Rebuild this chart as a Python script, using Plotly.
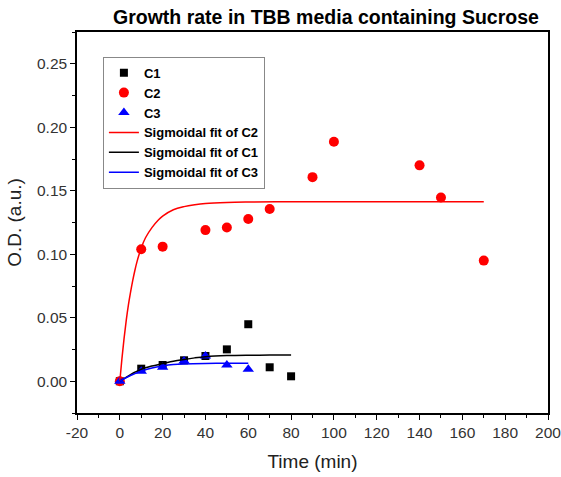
import plotly.graph_objects as go

# Measured data
t_c1 = [0, 10, 20, 30, 40, 50, 60, 70, 80]
od_c1 = [0.0, 0.0099, 0.0128, 0.0165, 0.0199, 0.0251, 0.0449, 0.011, 0.0039]

t_c2 = [0, 10, 20, 40, 50, 60, 70, 90, 100, 140, 150, 170]
od_c2 = [0.0, 0.104, 0.106, 0.119, 0.121, 0.1277, 0.1356, 0.1607, 0.1886, 0.170, 0.1447, 0.095]

t_c3 = [0, 10, 20, 30, 40, 50, 60]
od_c3 = [0.0, 0.0078, 0.011, 0.0159, 0.0199, 0.0128, 0.0094]

# Fitted curves
fit_t_c2 = [0, 1, 2, 3, 4, 5, 6, 7, 8, 10, 12, 15, 18, 20, 25, 30, 35, 40, 50, 60, 80, 100, 140, 170]
fit_od_c2 = [0.0, 0.018, 0.034, 0.048, 0.060, 0.070, 0.079, 0.087, 0.094, 0.105, 0.113, 0.121,
             0.127, 0.130, 0.135, 0.1375, 0.139, 0.140, 0.1408, 0.1411, 0.1413, 0.1413, 0.1413, 0.1413]

fit_t_c1 = [0, 5, 10, 15, 20, 25, 30, 35, 40, 50, 60, 70, 80]
fit_od_c1 = [0.0, 0.0052, 0.0094, 0.0120, 0.0139, 0.0158, 0.0172, 0.0184, 0.0193, 0.0202, 0.0205, 0.0206, 0.0206]

fit_t_c3 = [0, 5, 10, 15, 20, 25, 30, 40, 50, 60]
fit_od_c3 = [0.0, 0.0045, 0.0080, 0.0104, 0.0120, 0.0131, 0.0136, 0.0140, 0.0141, 0.0141]

# Tick labels
x_ticks = [-20, 0, 20, 40, 60, 80, 100, 120, 140, 160, 180, 200]
x_tick_labels = ["-20", "0", "20", "40", "60", "80", "100", "120", "140", "160", "180", "200"]
y_ticks = [0.0, 0.05, 0.10, 0.15, 0.20, 0.25]
y_tick_labels = ["0.00", "0.05", "0.10", "0.15", "0.20", "0.25"]

FONT = "Liberation Sans, Arial"

fig = go.Figure()

fig.add_trace(go.Scatter(x=t_c1, y=od_c1, mode="markers", name="C1",
                         marker=dict(symbol="square", size=8, color="black")))
fig.add_trace(go.Scatter(x=t_c2, y=od_c2, mode="markers", name="C2",
                         marker=dict(symbol="circle", size=10, color="#ff0000")))
fig.add_trace(go.Scatter(x=t_c3, y=od_c3, mode="markers", name="C3",
                         marker=dict(symbol="triangle-up", size=10, color="#0000ff")))
fig.add_trace(go.Scatter(x=fit_t_c2, y=fit_od_c2, mode="lines", name="Sigmoidal fit of C2",
                         line=dict(color="#ff0000", width=1.5, shape="spline")))
fig.add_trace(go.Scatter(x=fit_t_c1, y=fit_od_c1, mode="lines", name="Sigmoidal fit of C1",
                         line=dict(color="black", width=1.5, shape="spline")))
fig.add_trace(go.Scatter(x=fit_t_c3, y=fit_od_c3, mode="lines", name="Sigmoidal fit of C3",
                         line=dict(color="#0000ff", width=1.5, shape="spline")))

axis_common = dict(
    showline=True, linecolor="black", linewidth=1.5, mirror=True,
    ticks="outside", ticklen=5, tickwidth=1.2, tickcolor="black",
    showgrid=False, zeroline=False, ticklabeloverflow="allow",
    tickfont=dict(family=FONT, size=15.5, color="#333333"),
)

fig.update_layout(
    width=561, height=477,
    margin=dict(l=77, r=13, t=32, b=64, autoexpand=False),
    paper_bgcolor="white", plot_bgcolor="white",
    title=dict(text="<b>Growth rate in TBB media containing Sucrose</b>",
               font=dict(family=FONT, size=19.5, color="black"),
               x=0.581, xanchor="center", y=0.963, yanchor="middle"),
    xaxis=dict(range=[-20, 200], tickmode="array", tickvals=x_ticks, ticktext=x_tick_labels,
               minor=dict(ticks="outside", ticklen=3, tickcolor="black", dtick=10, tick0=-20),
               title=dict(text="Time (min)", font=dict(family=FONT, size=19, color="#222222"),
                          standoff=14),
               automargin=False,
               **axis_common),
    yaxis=dict(range=[-0.025, 0.275], tickmode="array", tickvals=y_ticks, ticktext=y_tick_labels,
               minor=dict(ticks="outside", ticklen=3, tickcolor="black", dtick=0.025, tick0=0),
               title=dict(text="O.D. (a.u.)", font=dict(family=FONT, size=19, color="#222222"),
                          standoff=10),
               automargin=False,
               **axis_common),
    legend=dict(x=0.055, y=0.935, xanchor="left", yanchor="top",
                bordercolor="#888888", borderwidth=1, bgcolor="white",
                font=dict(family=FONT, size=13, color="black"),
                itemwidth=30, tracegroupgap=0),
    showlegend=True,
)

for tr in fig.data:
    tr.name = f"<b>{tr.name}</b>"

fig.write_html("out.html")
